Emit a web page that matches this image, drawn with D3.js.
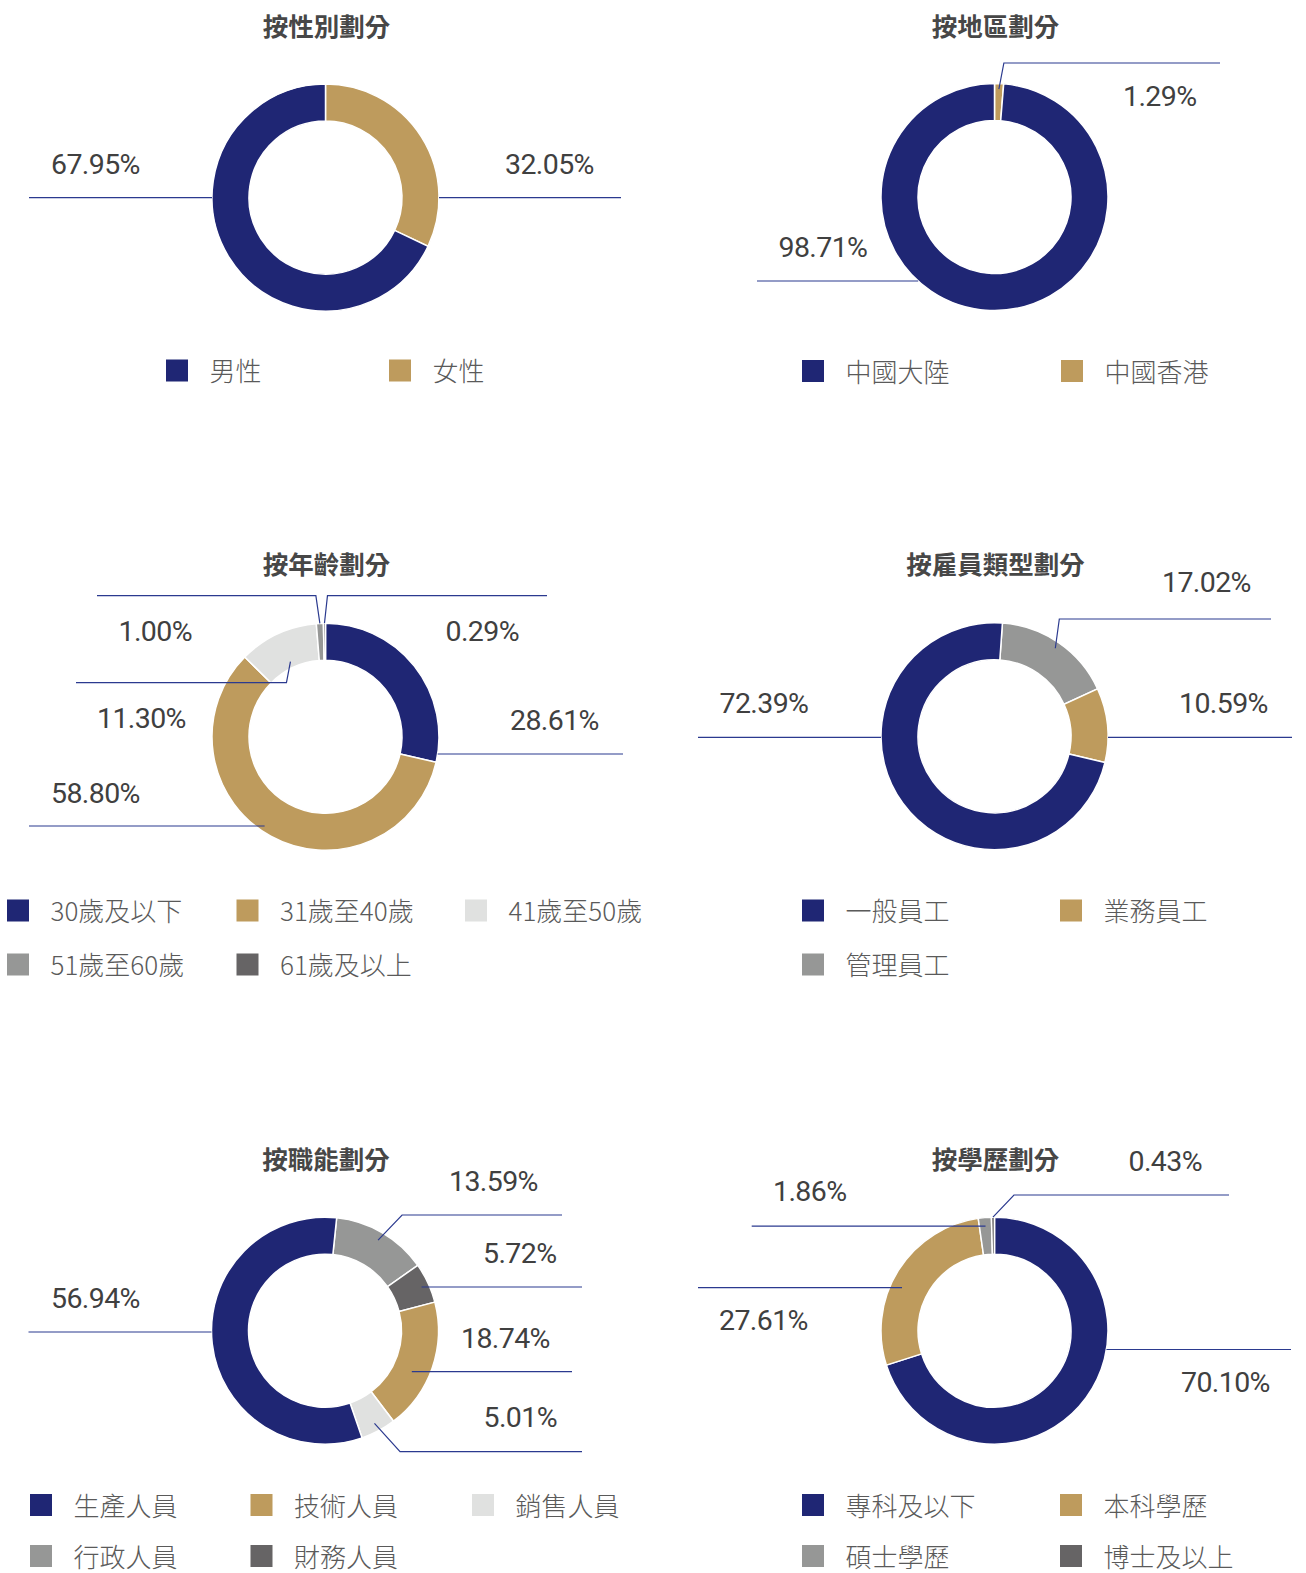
<!DOCTYPE html>
<html>
<head>
<meta charset="utf-8">
<script src="https://cdn.jsdelivr.net/npm/d3@7"></script>
<style>
  html, body { margin: 0; padding: 0; background: #ffffff; }
  svg { display: block; }
</style>
</head>
<body>
<svg id="chart" width="1306" height="1573"></svg>
<script>
// ---------------- DATA ----------------
const genderCats = ["男性", "女性"];
const genderVals = [67.95, 32.05];

const regionCats = ["中國大陸", "中國香港"];
const regionVals = [98.71, 1.29];

const ageCats = ["30歲及以下", "31歲至40歲", "41歲至50歲", "51歲至60歲", "61歲及以上"];
const ageVals = [28.61, 58.80, 11.30, 1.00, 0.29];

const typeCats = ["一般員工", "業務員工", "管理員工"];
const typeVals = [72.39, 10.59, 17.02];

const funcCats = ["生產人員", "技術人員", "銷售人員", "行政人員", "財務人員"];
const funcVals = [56.94, 18.74, 5.01, 13.59, 5.72];

const eduCats = ["專科及以下", "本科學歷", "碩士學歷", "博士及以上"];
const eduVals = [70.10, 27.61, 1.86, 0.43];

const titles = ["按性別劃分", "按地區劃分", "按年齡劃分", "按雇員類型劃分", "按職能劃分", "按學歷劃分"];

// ---------------- STYLE / LAYOUT ----------------
const NAVY = "#1f2674", TAN = "#be9b5d", LIGHT = "#e0e1e0", GRAY = "#969796", DARK = "#666465";
const LINE = "#2b3a8f";
const R_OUT = 113.5, R_IN = 76.5;
const deg = Math.PI / 180;

const charts = [
  { title: titles[0], cats: genderCats, vals: genderVals, colors: [NAVY, TAN],
    cx: 325.5, cy: 197.6, titleY: 24.5, order: [1, 0], start: 0,
    legendX: [166, 389], legendY: [369.5],
    labels: [
      { lx: 51, ly: 174, kind: "h", y: 197.6, rr: R_OUT, xEnd: 29 },
      { lx: 505, ly: 174, kind: "h", y: 197.6, rr: R_OUT, xEnd: 621 }
    ] },
  { title: titles[1], cats: regionCats, vals: regionVals, colors: [NAVY, TAN],
    cx: 994.5, cy: 197, titleY: 24.5, order: [1, 0], start: 0,
    legendX: [802, 1061], legendY: [370],
    labels: [
      { lx: 778.5, ly: 256.5, kind: "h", y: 281, rr: R_OUT, xEnd: 757 },
      { lx: 1123, ly: 105.5, kind: "e", rr: 108, jdx: 5, jy: 63, xEnd: 1220 }
    ] },
  { title: titles[2], cats: ageCats, vals: ageVals, colors: [NAVY, TAN, LIGHT, GRAY, DARK],
    cx: 325.5, cy: 736.8, titleY: 562, order: [0, 1, 2, 3, 4], start: 0,
    legendX: [7, 236.5, 465], legendY: [909.5, 963.5],
    labels: [
      { lx: 510, ly: 730, kind: "h", y: 754, rr: R_OUT, xEnd: 623 },
      { lx: 51, ly: 802.5, kind: "h", y: 826, rr: 108, xEnd: 29 },
      { lx: 97, ly: 727.5, kind: "e", rr: 83, jdx: -4, jy: 682.7, xEnd: 76 },
      { lx: 118.5, ly: 640.5, kind: "e", rr: R_OUT, jdx: -4, jy: 595.7, xEnd: 97 },
      { lx: 445.5, ly: 640.5, kind: "e", rr: R_OUT, jdx: 3, jy: 595.7, xEnd: 547 }
    ] },
  { title: titles[3], cats: typeCats, vals: typeVals, colors: [NAVY, TAN, GRAY],
    cx: 994.5, cy: 736.3, titleY: 562, order: [2, 1, 0], start: 4 * deg,
    legendX: [802, 1060], legendY: [909.5, 963.5],
    labels: [
      { lx: 719.5, ly: 713, kind: "h", y: 737.3, rr: R_OUT, xEnd: 698 },
      { lx: 1179, ly: 713, kind: "h", y: 737.3, rr: R_OUT, xEnd: 1292 },
      { lx: 1162, ly: 592.2, kind: "e", rr: 107, jdx: 4, jy: 619, xEnd: 1271 }
    ] },
  { title: titles[4], cats: funcCats, vals: funcVals, colors: [NAVY, TAN, LIGHT, GRAY, DARK],
    cx: 325, cy: 1330.7, titleY: 1157, order: [3, 4, 1, 2, 0], start: 5.9 * deg,
    legendX: [30, 250.5, 472], legendY: [1504, 1555],
    labels: [
      { lx: 51, ly: 1308, kind: "h", y: 1332, rr: R_OUT, xEnd: 28.5 },
      { lx: 461, ly: 1348, kind: "h", y: 1371.7, rr: 96, xEnd: 572 },
      { lx: 483.5, ly: 1427, kind: "e", rr: 105, jdx: 25.6, jy: 1451.7, xEnd: 582 },
      { lx: 449, ly: 1191.2, kind: "e", rr: 105, jdx: 24, jy: 1215, xEnd: 562 },
      { lx: 483, ly: 1262.5, kind: "h", y: 1287, rr: 106, xEnd: 582 }
    ] },
  { title: titles[5], cats: eduCats, vals: eduVals, colors: [NAVY, TAN, GRAY, DARK],
    cx: 994.5, cy: 1330.7, titleY: 1157, order: [0, 1, 2, 3], start: 0,
    legendX: [802, 1060], legendY: [1504, 1555],
    labels: [
      { lx: 1181, ly: 1391.5, kind: "h", y: 1349.5, rr: R_OUT, xEnd: 1291 },
      { lx: 719, ly: 1330, kind: "h", y: 1287.7, rr: 102, xEnd: 698 },
      { lx: 773, ly: 1201.2, kind: "m", rr: 105, xEnd: 751.7 },
      { lx: 1128.5, ly: 1170.5, kind: "e", rr: R_OUT, jdx: 21, jy: 1195, xEnd: 1229 }
    ] }
];

// ---------------- DRAW ----------------
const svg = d3.select("#chart");
svg.append("rect").attr("width", 1306).attr("height", 1573).attr("fill", "#fff");

const fmt = v => d3.format(".2f")(v) + "%";
const ringArc = d3.arc().innerRadius(R_IN).outerRadius(R_OUT);

charts.forEach(ch => {
  const g = svg.append("g");
  const data = ch.order.map(i => ({ i, cat: ch.cats[i], value: ch.vals[i] }));
  const pie = d3.pie().sort(null).value(d => d.value)
    .startAngle(ch.start).endAngle(ch.start + 2 * Math.PI);
  const arcs = pie(data);
  const color = d3.scaleOrdinal().domain(ch.cats).range(ch.colors);

  // title
  g.append("text")
    .attr("x", ch.cx + 1).attr("y", ch.titleY)
    .attr("text-anchor", "middle").attr("dominant-baseline", "central")
    .attr("font-family", "'Noto Sans CJK TC', 'Noto Sans CJK SC', sans-serif")
    .attr("font-weight", 700).attr("font-size", 25.5).attr("fill", "#474747")
    .text(ch.title);

  // donut
  const donut = g.append("g").attr("transform", `translate(${ch.cx},${ch.cy})`);
  donut.selectAll("path").data(arcs).join("path")
    .attr("d", ringArc)
    .attr("fill", d => color(d.data.cat))
    .attr("stroke", "#fff").attr("stroke-width", 1.5);

  // leader lines + labels
  arcs.forEach(a => {
    const spec = ch.labels[a.data.i];
    let pts;
    if (spec.kind === "h") {
      const dy = spec.y - ch.cy;
      const dx = Math.sqrt(Math.max(0, spec.rr * spec.rr - dy * dy));
      const side = spec.xEnd < ch.cx ? -1 : 1;
      pts = [[ch.cx + side * dx, spec.y], [spec.xEnd, spec.y]];
    } else {
      const c = d3.arc().innerRadius(spec.rr).outerRadius(spec.rr).centroid(a);
      const inner = [ch.cx + c[0], ch.cy + c[1]];
      if (spec.kind === "m") {
        pts = [inner, [spec.xEnd, inner[1]]];
      } else {
        pts = [inner, [inner[0] + spec.jdx, spec.jy], [spec.xEnd, spec.jy]];
      }
    }
    g.append("path")
      .attr("d", d3.line()(pts))
      .attr("fill", "none").attr("stroke", LINE).attr("stroke-width", 1.2);
    g.append("text")
      .attr("x", spec.lx).attr("y", spec.ly)
      .attr("font-family", "Roboto, 'Noto Sans', sans-serif")
      .attr("font-weight", 400).attr("font-size", 28.5)
      .attr("letter-spacing", -0.6)
      .attr("fill", "#404040")
      .text(fmt(a.data.value));
  });

  // legend
  const ncol = ch.legendX.length;
  const leg = g.append("g");
  ch.cats.forEach((cat, k) => {
    const x = ch.legendX[k % ncol];
    const y = ch.legendY[Math.floor(k / ncol)];
    leg.append("rect")
      .attr("x", x).attr("y", y - 10).attr("width", 22).attr("height", 22)
      .attr("fill", color(cat));
    leg.append("text")
      .attr("x", x + 43.5).attr("y", y)
      .attr("dominant-baseline", "central")
      .attr("font-family", "'Noto Sans CJK TC', 'Noto Sans CJK SC', sans-serif")
      .attr("font-weight", 300).attr("font-size", 26).attr("fill", "#5a5a5a")
      .text(cat);
  });
});
</script>
</body>
</html>
